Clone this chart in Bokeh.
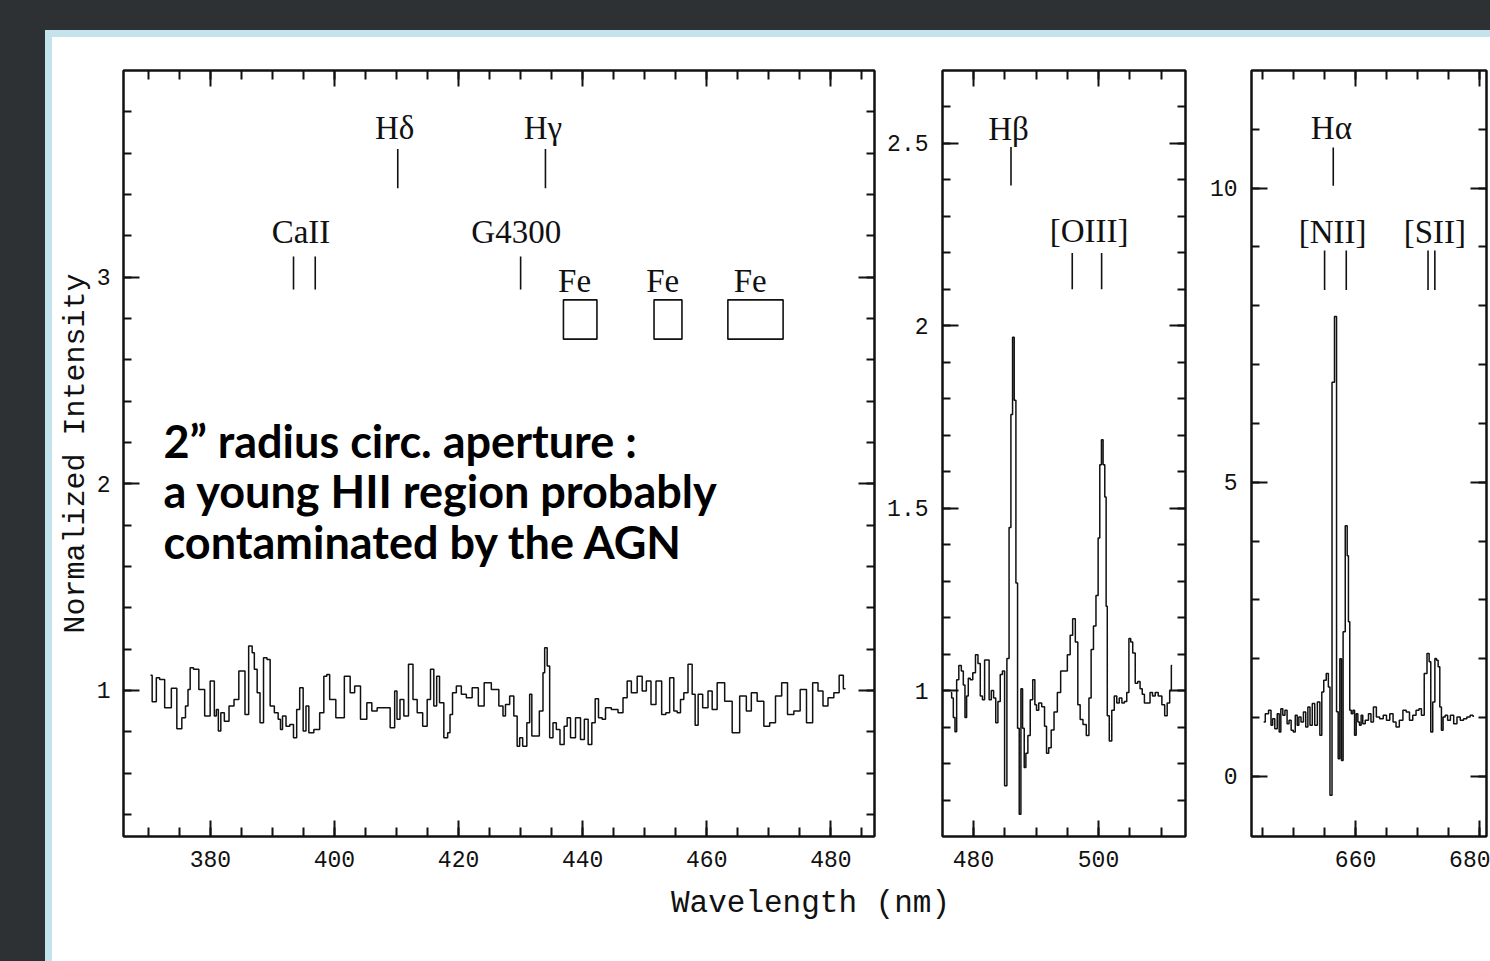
import numpy as np
from bokeh.plotting import figure
from bokeh.layouts import row, column
from bokeh.models import (Range1d, LinearAxis, FixedTicker, CustomJSTickFormatter, Div,
                          CustomLabelingPolicy)
from bokeh.core.properties import value
from bokeh.embed import file_html
from bokeh.resources import INLINE

# ---------------- data ----------------
# panel 1 : blue part of the spectrum
blue_wl = [370.35, 370.89, 371.69, 371.96, 373.31, 374.11, 375.08, 375.72, 376.26, 376.53,
           376.96, 377.60, 378.68, 379.48, 380.45, 380.83, 381.10, 381.47, 381.90, 382.60,
           383.41, 384.21, 384.96, 385.39, 385.77, 386.57, 386.90, 387.27, 387.81, 388.19,
           388.94, 389.31, 389.96, 390.66, 391.19, 391.41, 391.84, 392.54, 393.07, 393.72,
           394.10, 394.69, 395.22, 395.60, 396.14, 397.21, 398.02, 398.55, 398.98, 399.47,
           400.97, 402.21, 402.85, 403.66, 404.73, 405.70, 406.34, 407.42, 408.49, 409.46,
           409.94, 410.21, 410.91, 411.45, 412.41, 412.90, 413.76, 414.67, 415.21, 415.74,
           416.28, 416.66, 417.20, 418.05, 418.43, 418.81, 419.24, 420.04, 420.85, 421.65,
           422.73, 423.64, 424.61, 425.95, 427.03, 427.29, 427.83, 428.64, 429.17, 429.71,
           429.98, 430.68, 431.32, 431.59, 432.02, 432.56, 433.47, 433.74, 434.01, 434.55,
           434.81, 435.62, 435.89, 436.80, 437.23, 437.77, 438.31, 439.38, 439.92, 440.62,
           441.15, 441.80, 442.23, 442.87, 443.41, 443.95, 445.29, 446.10, 446.90, 447.44,
           448.25, 449.32, 449.86, 450.66, 451.36, 452.27, 453.19, 453.62, 454.42, 454.96,
           455.50, 456.03, 456.57, 457.38, 457.91, 458.34, 458.88, 459.80, 460.60, 461.14,
           462.21, 463.56, 464.63, 465.97, 466.78, 467.58, 468.66, 469.73, 470.54, 471.61,
           472.53, 473.49, 474.57, 475.53, 476.61, 477.52, 478.33, 479.13, 479.94, 481.01,
           481.66, 482.36]
blue_flux = [1.073, 0.945, 1.061, 1.053, 0.916, 1.010, 0.814, 0.868, 0.924, 1.005,
             1.110, 1.102, 1.005, 0.876, 1.045, 0.876, 0.908, 0.803, 0.892, 0.851,
             0.924, 0.956, 1.094, 1.094, 0.884, 1.215, 1.182, 1.102, 0.989, 0.843,
             1.158, 1.150, 0.924, 0.892, 0.860, 0.811, 0.876, 0.827, 0.835, 0.771,
             0.908, 1.013, 0.803, 0.924, 0.795, 0.811, 0.892, 1.069, 1.077, 0.956,
             0.868, 1.069, 0.989, 1.021, 0.860, 0.940, 0.900, 0.916, 0.916, 0.819,
             0.997, 0.860, 0.956, 0.876, 1.126, 0.956, 0.892, 0.827, 0.956, 1.102,
             0.924, 1.069, 0.940, 0.771, 0.795, 0.884, 0.989, 1.021, 0.981, 0.964,
             1.013, 0.924, 1.037, 1.005, 0.924, 0.876, 0.932, 0.973, 0.876, 0.730,
             0.771, 0.730, 0.843, 0.981, 0.779, 0.779, 0.900, 1.086, 1.207, 1.118,
             0.771, 0.843, 0.811, 0.738, 0.827, 0.868, 0.771, 0.868, 0.763, 0.860,
             0.738, 0.843, 0.960, 0.868, 0.860, 0.916, 0.908, 0.892, 0.964, 1.045,
             0.989, 1.069, 0.997, 1.045, 0.932, 1.045, 0.884, 0.892, 1.061, 0.900,
             0.892, 0.956, 0.989, 1.126, 0.981, 0.831, 0.981, 0.916, 0.997, 0.908,
             1.037, 0.948, 0.795, 0.973, 0.900, 0.989, 0.948, 0.827, 0.843, 0.973,
             1.037, 0.884, 0.900, 1.005, 0.843, 1.037, 0.997, 0.924, 0.964, 0.989,
             1.073, 1.008]

# panel 2 : H-beta / [OIII]
hb_wl = [476.37, 476.64, 476.90, 477.17, 477.44, 477.86, 478.24, 478.50, 478.77, 479.03,
         479.30, 479.67, 480.10, 480.53, 480.90, 481.27, 481.59, 481.96, 482.34, 482.66,
         483.03, 483.40, 483.72, 484.09, 484.47, 484.79, 485.16, 485.53, 485.85, 486.12,
         486.38, 486.65, 486.92, 487.18, 487.45, 487.72, 487.98, 488.25, 488.51, 488.89,
         489.26, 489.69, 489.95, 490.22, 490.65, 491.18, 491.55, 491.82, 492.24, 492.62,
         493.15, 493.68, 494.21, 494.75, 495.28, 495.65, 496.08, 496.50, 496.88, 497.25,
         497.78, 498.31, 498.63, 499.01, 499.38, 499.81, 500.07, 500.34, 500.60, 500.87,
         501.14, 501.30, 501.51, 501.94, 502.31, 502.74, 503.11, 503.53, 503.96, 504.33,
         504.71, 505.02, 505.29, 505.66, 506.09, 506.46, 506.84, 507.16, 507.53, 508.06,
         508.43, 508.86, 509.29, 509.82, 510.46, 510.72, 511.26, 511.52, 511.79]
hb_flux = [0.995, 0.980, 0.926, 0.887, 1.030, 1.069, 1.054, 1.015, 0.926, 0.985,
           1.034, 1.030, 1.049, 1.098, 1.074, 0.985, 0.975, 1.084, 1.084, 0.975,
           1.000, 0.980, 0.912, 0.970, 1.044, 1.054, 0.739, 1.088, 1.447, 1.757,
           1.969, 1.796, 1.295, 0.897, 0.661, 1.005, 0.897, 0.789, 0.828, 0.877,
           0.975, 1.030, 0.961, 0.946, 0.966, 0.956, 0.902, 0.828, 0.843, 0.892,
           0.941, 0.995, 1.054, 1.054, 1.098, 1.152, 1.197, 1.133, 0.961, 0.921,
           0.907, 0.877, 0.980, 1.113, 1.177, 1.261, 1.418, 1.619, 1.688, 1.619,
           1.531, 1.231, 0.931, 0.862, 0.946, 0.985, 0.966, 0.980, 0.966, 0.970,
           0.995, 1.143, 1.133, 1.103, 1.020, 1.025, 1.005, 0.990, 0.966, 0.966,
           0.995, 0.985, 0.995, 0.985, 0.961, 0.931, 0.966, 1.000, 1.069]

# panel 3 : H-alpha / [NII] / [SII]
ha_wl = [645.16, 645.69, 646.22, 646.48, 646.75, 647.17, 647.54, 647.80, 648.07, 648.44,
         648.76, 649.13, 649.39, 649.81, 650.08, 650.45, 650.71, 650.98, 651.40, 651.77,
         652.14, 652.46, 652.83, 653.20, 653.62, 654.05, 654.42, 654.68, 655.05, 655.48,
         655.74, 656.00, 656.40, 656.80, 657.06, 657.33, 657.59, 657.86, 658.12, 658.55,
         658.75, 658.95, 659.18, 659.44, 659.71, 659.97, 660.24, 660.50, 660.77, 661.03,
         661.30, 661.82, 662.35, 662.62, 663.15, 663.57, 664.21, 664.73, 665.26, 665.79,
         666.32, 666.75, 667.38, 667.91, 668.44, 668.97, 669.50, 670.03, 670.45, 670.82,
         671.35, 671.72, 672.04, 672.25, 672.67, 672.94, 673.20, 673.47, 673.73, 674.00,
         674.26, 674.68, 675.05, 675.58, 676.11, 676.64, 677.17, 677.70, 678.23, 678.76,
         679.13]
ha_flux = [0.926, 1.068, 1.125, 0.869, 0.983, 0.813, 1.068, 0.756, 1.153, 1.040,
           1.125, 0.898, 0.955, 0.784, 0.756, 1.040, 0.869, 1.011, 0.926, 1.097,
           0.841, 1.182, 0.869, 1.239, 0.869, 1.267, 0.699, 1.438, 1.636, 1.750,
           1.523, -0.320, 6.700, 7.820, 1.100, 0.300, 2.000, 0.270, 2.460, 4.260,
           3.750, 2.630, 1.125, 1.068, 1.125, 0.699, 1.068, 0.926, 0.869, 1.040,
           0.898, 0.955, 1.068, 0.926, 1.182, 1.011, 0.983, 1.040, 0.955, 1.068,
           0.926, 0.841, 0.955, 1.125, 1.097, 0.955, 1.040, 1.125, 1.153, 1.040,
           1.750, 2.091, 1.949, 0.756, 1.267, 2.006, 1.977, 1.864, 1.182, 0.784,
           1.011, 1.040, 0.955, 1.040, 0.898, 1.011, 0.955, 0.983, 1.011, 1.040,
           1.023]

# line identifications
p1_labels = ["Hδ", "Hγ", "CaII", "G4300", "Fe", "Fe", "Fe"]
p1_label_x = [409.7, 433.6, 394.6, 429.3, 438.7, 452.9, 467.0]
p1_label_y = [3.72, 3.72, 3.22, 3.22, 2.98, 2.98, 2.98]
p1_mark_x = [410.2, 434.0, 393.4, 396.9, 430.0]
p1_mark_lo = [3.43, 3.43, 2.94, 2.94, 2.94]
p1_mark_hi = [3.62, 3.62, 3.10, 3.10, 3.10]
fe_left = [436.9, 451.5, 463.4]
fe_right = [442.3, 456.0, 472.3]
fe_bottom = [2.70, 2.70, 2.70]
fe_top = [2.89, 2.89, 2.89]

p2_labels = ["Hβ", "[OIII]"]
p2_label_x = [485.6, 498.5]
p2_label_y = [2.54, 2.26]
p2_mark_x = [486.0, 495.8, 500.5]
p2_mark_lo = [2.385, 2.10, 2.10]
p2_mark_hi = [2.49, 2.20, 2.20]

p3_labels = ["Hα", "[NII]", "[SII]"]
p3_label_x = [656.1, 656.3, 672.8]
p3_label_y = [11.03, 9.26, 9.26]
p3_mark_x = [656.4, 655.0, 658.5, 671.7, 672.8]
p3_mark_lo = [10.04, 8.27, 8.27, 8.27, 8.27]
p3_mark_hi = [10.69, 8.94, 8.94, 8.94, 8.94]

note_lines = ["2\u201d radius circ. aperture :",
              "a young HII region probably",
              "contaminated by the AGN"]
note_x = [372.45, 372.45, 372.45]
note_y = [2.208, 1.966, 1.719]

# ---------------- styling ----------------
INK = "#111111"
DARK = "#2d3133"
BLUE = "#c3e4ec"
TICK_FONT = "Liberation Mono"
ID_FONT = "Liberation Serif"

fmt = CustomJSTickFormatter(code="return String(parseFloat(tick.toFixed(3)));")
no_labels = CustomLabelingPolicy(code="""
    for (const i of indices) { indices.unset(i) }
    return indices
""")


def style_axis(ax, labels, minor_len):
    ax.axis_line_color = INK
    ax.axis_line_width = 2
    ax.major_tick_line_color = INK
    ax.major_tick_line_width = 2
    ax.minor_tick_line_color = INK
    ax.minor_tick_line_width = 2
    ax.major_tick_in = 16
    ax.major_tick_out = 0
    ax.minor_tick_in = minor_len
    ax.minor_tick_out = 0
    if labels:
        ax.major_label_text_font = TICK_FONT
        ax.major_label_text_font_size = "23px"
        ax.major_label_text_color = INK
        ax.major_label_standoff = 14
    else:
        ax.major_label_policy = no_labels
        ax.major_label_text_font_size = "1px"
        ax.major_label_standoff = 0


def panel(width, xr, yr, xmaj, xmin, ymaj, ymin, bl, br):
    p = figure(width=width, height=843, x_range=Range1d(*xr), y_range=Range1d(*yr),
               x_axis_type=None, y_axis_type=None, output_backend="svg",
               toolbar_location=None, min_border_left=bl, min_border_right=br,
               min_border_top=33, min_border_bottom=44,
               background_fill_color="white", border_fill_color="white")
    p.outline_line_color = INK
    p.outline_line_width = 2
    for loc, lab in (("below", True), ("above", False)):
        ax = LinearAxis(ticker=FixedTicker(ticks=xmaj, minor_ticks=xmin))
        style_axis(ax, lab, 9)
        p.add_layout(ax, loc)
    axes = {}
    for loc, lab in (("left", True), ("right", False)):
        ax = LinearAxis(ticker=FixedTicker(ticks=ymaj, minor_ticks=ymin), formatter=fmt)
        style_axis(ax, lab, 8)
        p.add_layout(ax, loc)
        axes[loc] = ax
    return p, axes


def ident(p, lx, ly, lt, mx, lo, hi):
    p.segment(x0=mx, y0=lo, x1=mx, y1=hi, line_color=INK, line_width=1.6)
    p.text(x=lx, y=ly, text=lt, text_font=value(ID_FONT), text_font_size="33px",
           text_align="center", text_baseline="middle", text_color=INK)


# panel 1
p1, ax1 = panel(828, (366.0, 487.03), (0.293, 4.0),
                [380, 400, 420, 440, 460, 480], list(range(370, 490, 5)),
                [1, 2, 3], [round(v, 2) for v in np.arange(0.4, 3.81, 0.2)], 71, 6)
ax1["left"].axis_label = "Normalized Intensity"
ax1["left"].axis_label_text_font = TICK_FONT
ax1["left"].axis_label_text_font_size = "30px"
ax1["left"].axis_label_text_font_style = "normal"
ax1["left"].axis_label_text_color = INK
ax1["left"].axis_label_standoff = 1
ax1["left"].major_label_standoff = 13
p1.step(blue_wl, blue_flux, mode="center", line_color=INK, line_width=1.5)
ident(p1, p1_label_x, p1_label_y, p1_labels, p1_mark_x, p1_mark_lo, p1_mark_hi)
p1.quad(left=fe_left, right=fe_right, bottom=fe_bottom, top=fe_top,
        fill_color=None, line_color=INK, line_width=1.6)
p1.text(x=note_x, y=note_y, text=note_lines, text_font=value("Lato"),
        text_font_style="bold", text_font_size="45px", text_align="left",
        text_baseline="middle", text_color="black")

# panel 2
p2, _ = panel(312, (475.04, 513.92), (0.6, 2.7),
              [480, 500], list(range(480, 515, 5)),
              [1, 1.5, 2, 2.5], [round(v, 2) for v in np.arange(0.7, 2.65, 0.1)], 62, 7)
p2.step(hb_wl, hb_flux, mode="center", line_color=INK, line_width=1.5)
ident(p2, p2_label_x, p2_label_y, p2_labels, p2_mark_x, p2_mark_lo, p2_mark_hi)

# panel 3 (its right edge runs off the slide)
p3, _ = panel(298, (643.2, 681.14), (-1.02, 12.0),
              [660, 680], list(range(645, 681, 5)),
              [0, 5, 10], list(range(0, 12)), 59, 0)
p3.step(ha_wl, ha_flux, mode="center", line_color=INK, line_width=1.5)
ident(p3, p3_label_x, p3_label_y, p3_labels, p3_mark_x, p3_mark_lo, p3_mark_hi)

# common x-axis title
lab = figure(width=1438, height=81, x_range=Range1d(0, 1438), y_range=Range1d(0, 81),
             x_axis_type=None, y_axis_type=None, output_backend="svg",
             toolbar_location=None, min_border=0,
             background_fill_color="white", border_fill_color="white")
lab.outline_line_color = None
lab.text(x=[758], y=[58], text=["Wavelength (nm)"], text_font=value(TICK_FONT),
         text_font_size="31px", text_align="center", text_baseline="middle",
         text_color=INK)


def block(w, h, c):
    return Div(width=w, height=h, margin=0, styles={"background-color": c})


inner = column(row(p1, p2, p3, spacing=0), lab, spacing=0)
body = row(block(7, 924, BLUE), inner, spacing=0)
right = column(block(1445, 7, BLUE), body, spacing=0)
mid = row(block(45, 931, DARK), right, spacing=0)
page = column(block(1490, 30, DARK), mid, spacing=0)

open("out.html", "w").write(file_html(page, INLINE, "spectrum"))
